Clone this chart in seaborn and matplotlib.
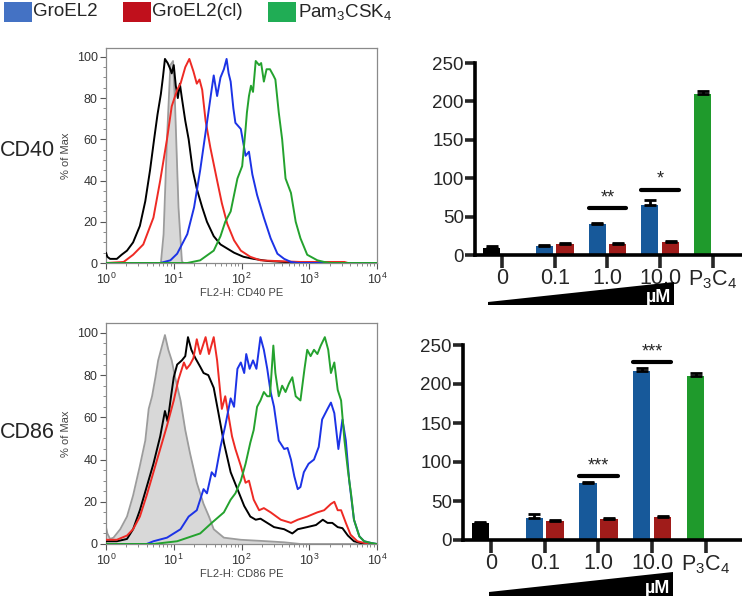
import numpy as np
import pandas as pd
import matplotlib
matplotlib.use("Agg")
import matplotlib.pyplot as plt
import seaborn as sns
from matplotlib.patches import Polygon, Rectangle
from matplotlib.ticker import LogLocator, MultipleLocator, NullFormatter

# ---------------- data ----------------
# histogram curves: x = log10(fluorescence), y = % of Max
cd40_iso_x = [0.81, 0.85, 0.90, 0.95, 0.99, 1.02, 1.07, 1.12, 1.14]
cd40_iso_y = [0, 14, 60, 96, 98, 76, 27, 1, 0]
cd40_ctrl_x = [0, 0.02, 0.06, 0.16, 0.23, 0.31, 0.40, 0.50, 0.58, 0.65, 0.71, 0.76, 0.81, 0.84, 0.87, 0.91,
               0.95, 0.97, 1.00, 1.03, 1.06, 1.09, 1.12, 1.17, 1.22, 1.28, 1.34, 1.42, 1.49, 1.59, 1.69, 1.79,
               1.89, 2.03, 2.18, 2.38, 2.63, 2.87]
cd40_ctrl_y = [5, 3, 2, 2, 4, 6, 10, 18, 30, 45, 60, 72, 82, 90, 99, 97, 94, 92, 96, 86, 80, 87, 80, 69, 60,
               45, 36, 27, 20, 13, 9, 7, 5, 3, 2, 1, 0.5, 0]
cd40_cl_x = [0, 0.26, 0.40, 0.55, 0.70, 0.80, 0.90, 0.97, 1.05, 1.10, 1.17, 1.23, 1.29, 1.34, 1.38, 1.42,
             1.47, 1.54, 1.64, 1.71, 1.79, 1.89, 1.99, 2.13, 2.28, 2.48, 2.87, 3.52, 3.57]
cd40_cl_y = [0, 0.5, 4, 9, 22, 40, 60, 76, 84, 87, 95, 99, 93, 87, 89, 84, 69, 56, 40, 29, 19, 11, 6, 3,
             1.3, 1, 0.5, 0.5, 0]
cd40_gro_x = [0, 0.80, 0.95, 1.05, 1.20, 1.30, 1.39, 1.49, 1.55, 1.59, 1.64, 1.69, 1.74, 1.78, 1.81, 1.84,
              1.88, 1.91, 1.99, 2.06, 2.11, 2.16, 2.23, 2.33, 2.43, 2.53, 2.63, 2.73, 2.83, 4.0]
cd40_gro_y = [0, 0, 1.3, 4.5, 14, 27, 45, 68, 82, 91, 81, 90, 94, 99, 92, 88, 75, 68, 65, 52, 54, 43, 33,
              22, 12, 4.5, 2, 0.5, 0, 0]
cd40_pam_x = [0, 1.20, 1.39, 1.59, 1.69, 1.76, 1.84, 1.94, 2.01, 2.06, 2.08, 2.11, 2.14, 2.17, 2.21, 2.26,
              2.29, 2.33, 2.37, 2.42, 2.47, 2.50, 2.55, 2.60, 2.65, 2.73, 2.80, 2.87, 2.97, 3.12, 3.22,
              3.32, 4.0]
cd40_pam_y = [0, 0, 1.3, 6, 13, 20, 25, 41, 47, 65, 73, 81, 86, 83, 98, 96, 97, 88, 94, 94, 91, 89, 73, 60,
              41, 34, 20, 12, 4, 1.3, 0.5, 0, 0]

cd86_iso_x = [0, 0.02, 0.06, 0.11, 0.21, 0.31, 0.40, 0.50, 0.58, 0.63, 0.68, 0.73, 0.77, 0.82, 0.87, 0.92,
              0.97, 1.02, 1.10, 1.17, 1.24, 1.34, 1.44, 1.52, 1.59, 1.74, 1.99, 2.38, 2.63, 2.87, 4.0]
cd86_iso_y = [8, 5, 2.4, 3, 7, 13, 23, 37, 49, 64, 70, 79, 87, 93, 99, 92, 87, 79, 68, 54, 43, 29, 19, 13,
              7, 3, 2, 1.3, 0.8, 0, 0]
cd86_ctrl_x = [0, 0.16, 0.31, 0.40, 0.50, 0.60, 0.70, 0.80, 0.87, 0.91, 0.96, 1.00, 1.05, 1.12, 1.17, 1.21,
               1.26, 1.32, 1.39, 1.44, 1.51, 1.59, 1.66, 1.74, 1.84, 1.94, 2.04, 2.13, 2.21, 2.28, 2.38,
               2.48, 2.63, 2.75, 2.83, 2.97, 3.10, 3.20, 3.27, 3.34, 3.42, 3.49, 3.57, 3.66, 3.76, 3.86]
cd86_ctrl_y = [1.3, 1.3, 2.4, 7, 16, 27, 38, 51, 63, 58, 70, 79, 85, 87, 89, 98, 92, 88, 84, 81, 80, 74, 62,
               48, 34, 26, 18, 13, 11.5, 12, 10, 8, 7, 5, 7, 8, 9, 11.5, 10, 10, 8, 7.5, 4, 1.3, 0.5, 0]
cd86_cl_x = [0, 0.16, 0.31, 0.40, 0.50, 0.60, 0.70, 0.80, 0.90, 1.00, 1.07, 1.15, 1.19, 1.24, 1.29, 1.34,
             1.39, 1.47, 1.52, 1.59, 1.64, 1.71, 1.76, 1.86, 1.91, 1.99, 2.06, 2.11, 2.18, 2.26, 2.33, 2.43,
             2.58, 2.73, 2.83, 2.97, 3.12, 3.22, 3.32, 3.37, 3.42, 3.47, 3.54, 3.61, 3.71, 3.81, 3.91]
cd86_cl_y = [2, 2, 4, 7, 13, 23, 34, 45, 56, 68, 78, 86, 83, 85, 88, 97, 90, 98, 90, 98, 87, 64, 70, 51, 45,
             37, 29, 30, 21, 16, 17, 15, 11.5, 10, 11.5, 13, 15, 16, 19, 20, 16, 16, 10, 4.4, 1.3, 0.5, 0]
cd86_gro_x = [0, 0.60, 0.70, 0.90, 1.10, 1.22, 1.34, 1.44, 1.49, 1.56, 1.61, 1.69, 1.76, 1.84, 1.89, 1.94,
              1.99, 2.04, 2.07, 2.12, 2.17, 2.22, 2.28, 2.33, 2.38, 2.43, 2.48, 2.55, 2.63, 2.68, 2.73,
              2.78, 2.83, 2.87, 2.92, 2.99, 3.07, 3.14, 3.19, 3.27, 3.32, 3.37, 3.43, 3.49, 3.54, 3.59,
              3.66, 3.74, 3.81, 3.91, 4.0]
cd86_gro_y = [0, 0, 1.3, 3, 7, 13, 16, 26, 24, 34, 32, 46, 56, 69, 65, 83, 86, 81, 90, 83, 87, 83, 98, 92,
              83, 72, 65, 49, 45, 45.5, 40, 32, 26, 27, 34, 38, 40, 46, 59, 64, 67, 62, 45, 59, 49, 30,
              11.5, 3.6, 1.3, 0.5, 0]
cd86_pam_x = [0, 0.70, 1.05, 1.39, 1.56, 1.74, 1.84, 1.91, 1.99, 2.06, 2.13, 2.18, 2.23, 2.28, 2.33, 2.38,
              2.42, 2.47, 2.50, 2.55, 2.60, 2.65, 2.70, 2.75, 2.80, 2.87, 2.93, 2.97, 3.02, 3.07, 3.12,
              3.17, 3.23, 3.28, 3.32, 3.37, 3.42, 3.47, 3.52, 3.57, 3.62, 3.66, 3.74, 3.81, 3.91, 4.0]
cd86_pam_y = [0, 0, 1.3, 5, 10, 15, 21, 24, 30, 38, 48, 54, 65, 68, 72, 70, 70, 94, 81, 70, 75, 72, 76, 79,
              70, 68, 83, 92, 89, 92, 90, 94, 98, 92, 81, 86, 73, 68, 49, 35, 23, 11.5, 3.6, 1.3, 0.5, 0]

# bar charts (mean fluorescence)
categories = ["0", "0.1", "1.0", "10.0", "P3C4"]
tick_labels = ["0", "0.1", "1.0", "10.0", "P$_3$C$_4$"]
cd40_treat = [9, 12, 40, 65, 210]
cd40_treat_err = [2.5, 1.5, 1.5, 6, 4]
cd40_cl = [np.nan, 14, 14, 17, np.nan]
cd40_cl_err = [0, 1.5, 1, 1, 0]
cd40_sig = [("1.0", 61, "**"), ("10.0", 85, "*")]
cd86_treat = [21.5, 28, 73, 217, 210]
cd86_treat_err = [2, 5, 1.3, 3, 4]
cd86_cl = [np.nan, 25, 27, 29, np.nan]
cd86_cl_err = [0, 1.2, 1, 1.2, 0]
cd86_sig = [("1.0", 82, "***"), ("10.0", 228, "***")]

legend_labels = ["GroEL2", "GroEL2(cl)", "Pam$_3$CSK$_4$"]

# ---------------- style ----------------
sns.set_style("ticks")
plt.rcParams['font.family'] = ['Liberation Sans', 'DejaVu Sans']
plt.rcParams['mathtext.fontset'] = 'custom'
plt.rcParams['mathtext.rm'] = 'Liberation Sans'
plt.rcParams['mathtext.it'] = 'Liberation Sans:italic'
plt.rcParams['mathtext.bf'] = 'Liberation Sans:bold'
plt.rcParams['mathtext.sf'] = 'Liberation Sans'

LEG_BLUE, LEG_RED, LEG_GREEN = "#4472c4", "#c0101c", "#20ad55"
BAR_BLUE, BAR_RED, BAR_GREEN = "#17599a", "#a01c1a", "#1f9a2c"
H_BLACK, H_RED, H_BLUE, H_GREEN = "#000000", "#ee2a24", "#1c33e6", "#24a22e"

W, H = 742, 596
fig = plt.figure(figsize=(W / 100, H / 100), dpi=100)


def ax_px(l, t, r, b):
    return fig.add_axes([l / W, 1 - b / H, (r - l) / W, (b - t) / H])


def fig_xy(x, y):
    return (x / W, 1 - y / H)


def draw_hist(ax, iso_x, iso_y, curves, xlabel, ytop):
    ix = 10 ** np.array(iso_x)
    ax.fill_between(ix, iso_y, color="#d8d8d8", lw=0, zorder=1)
    ax.plot(ix, iso_y, color="#9c9c9c", lw=1.3, zorder=2)
    for xs, ys, c in curves:
        sns.lineplot(x=10 ** np.array(xs), y=np.array(ys, float), color=c, lw=1.4, ax=ax,
                     estimator=None, sort=False, legend=False, zorder=3)
    ax.set_xscale("log")
    ax.set_xlim(1, 1e4)
    ax.set_ylim(0, ytop)
    ax.xaxis.set_major_locator(LogLocator(base=10, numticks=10))
    ax.xaxis.set_minor_locator(LogLocator(base=10, subs=np.arange(2, 10), numticks=50))
    ax.xaxis.set_minor_formatter(NullFormatter())
    ax.yaxis.set_major_locator(MultipleLocator(20))
    ax.yaxis.set_minor_locator(MultipleLocator(5))
    ax.tick_params(which="major", length=4, width=0.8, color="#555555", labelsize=9,
                   labelcolor="#333333", pad=2)
    ax.tick_params(which="minor", length=2, width=0.6, color="#777777")
    for s in ax.spines.values():
        s.set_color("#8a8a8a")
        s.set_linewidth(0.9)
    ax.set_ylabel("% of Max", fontsize=8, color="#444444", labelpad=4)
    ax.set_xlabel(xlabel, fontsize=8, color="#444444", labelpad=1)


def draw_bars(ax, treat, treat_err, cl, cl_err, sig, xlim):
    df = pd.DataFrame({
        "conc": categories * 2,
        "group": ["treated"] * len(categories) + ["cleaved"] * len(categories),
        "value": list(treat) + list(cl),
    }).dropna()
    sns.barplot(data=df, x="conc", y="value", hue="group", order=categories,
                hue_order=["treated", "cleaved"],
                palette={"treated": BAR_BLUE, "cleaved": BAR_RED},
                width=0.78, gap=0.17, errorbar=None, saturation=1, linewidth=0,
                legend=False, ax=ax)
    errs = {}
    for i in range(len(categories)):
        errs[(i, 0)] = treat_err[i]
        errs[(i, 1)] = cl_err[i]
    edges = {}
    for p in ax.patches:
        h = p.get_height()
        if not np.isfinite(h) or h == 0:
            continue
        xc = p.get_x() + p.get_width() / 2
        idx = int(round(xc))
        slot = 0 if xc < idx else 1
        if slot == 0 and categories[idx] == "0":
            p.set_facecolor("black")
        if slot == 0 and categories[idx] == "P3C4":
            p.set_facecolor(BAR_GREEN)
        edges[(idx, slot)] = (p.get_x(), p.get_x() + p.get_width())
        e = errs[(idx, slot)]
        ax.errorbar([xc], [h], yerr=[[0], [e]], fmt="none", ecolor="black",
                    elinewidth=2, capsize=4.5, capthick=2, zorder=4)
    for cat, yv, star in sig:
        i = categories.index(cat)
        x0 = edges[(i, 0)][0]
        x1 = edges[(i, 1)][1]
        ax.plot([x0, x1], [yv, yv], color="black", lw=3, solid_capstyle="round", clip_on=False)
        ax.text((x0 + x1) / 2, yv + 2.5, star, ha="center", va="bottom", fontsize=13)
    ax.set_xlim(*xlim)
    ax.set_ylim(0, 250)
    ax.set_yticks([0, 50, 100, 150, 200, 250])
    ax.set_xticks(range(len(categories)))
    ax.set_xticklabels(tick_labels)
    ax.set_xlabel("")
    ax.set_ylabel("")
    sns.despine(ax=ax)
    for s in ("left", "bottom"):
        ax.spines[s].set_linewidth(2.6)
        ax.spines[s].set_color("black")
    ax.tick_params(axis="y", length=7, width=2.6, labelsize=13.5, pad=1)
    ax.tick_params(axis="x", length=9, width=2.6, labelsize=15.5, pad=0.5)


def wedge(xl, xr, ybot, ytop_l, ytop_r, label_y):
    pts = [fig_xy(xl, ybot), fig_xy(xl, ytop_l), fig_xy(xr, ytop_r), fig_xy(xr, ybot)]
    fig.add_artist(Polygon(pts, closed=True, transform=fig.transFigure, facecolor="black",
                           edgecolor="none"))
    fx, fy = fig_xy(xr - 3, label_y)
    fig.text(fx, fy, "µM", color="white", fontsize=13, fontweight="bold", ha="right",
             va="baseline")


# ---------------- panels ----------------
ax1 = ax_px(106, 48, 377, 263)
draw_hist(ax1, cd40_iso_x, cd40_iso_y,
          [(cd40_ctrl_x, cd40_ctrl_y, H_BLACK), (cd40_cl_x, cd40_cl_y, H_RED),
           (cd40_gro_x, cd40_gro_y, H_BLUE), (cd40_pam_x, cd40_pam_y, H_GREEN)],
          "FL2-H: CD40 PE", 104.3)

ax2 = ax_px(106, 323, 377, 544)
draw_hist(ax2, cd86_iso_x, cd86_iso_y,
          [(cd86_ctrl_x, cd86_ctrl_y, H_BLACK), (cd86_cl_x, cd86_cl_y, H_RED),
           (cd86_gro_x, cd86_gro_y, H_BLUE), (cd86_pam_x, cd86_pam_y, H_GREEN)],
          "FL2-H: CD86 PE", 104.7)

ax3 = ax_px(475, 63, 742, 255)
draw_bars(ax3, cd40_treat, cd40_treat_err, cd40_cl, cd40_cl_err, cd40_sig, (-0.51, 4.55))

ax4 = ax_px(463, 345, 742, 540)
draw_bars(ax4, cd86_treat, cd86_treat_err, cd86_cl, cd86_cl_err, cd86_sig, (-0.52, 4.67))

wedge(488, 674, 305, 302, 282, 302)
wedge(489, 673, 596, 592, 572, 593)

# row labels
fig.text(*fig_xy(0, 150), "CD40", fontsize=15.5, ha="left", va="center")
fig.text(*fig_xy(0, 433), "CD86", fontsize=15.5, ha="left", va="center")

# legend
for (sx, tx), lab, col in zip([(4, 33), (123, 152), (268, 298)], legend_labels,
                              [LEG_BLUE, LEG_RED, LEG_GREEN]):
    x0, y0 = fig_xy(sx, 22)
    fig.add_artist(Rectangle((x0, y0), 28 / W, 20 / H, transform=fig.transFigure,
                             facecolor=col, edgecolor="none"))
    fig.text(*fig_xy(tx, 12), lab, fontsize=13.5, ha="left", va="center")

fig.savefig("out.png", dpi=100)
